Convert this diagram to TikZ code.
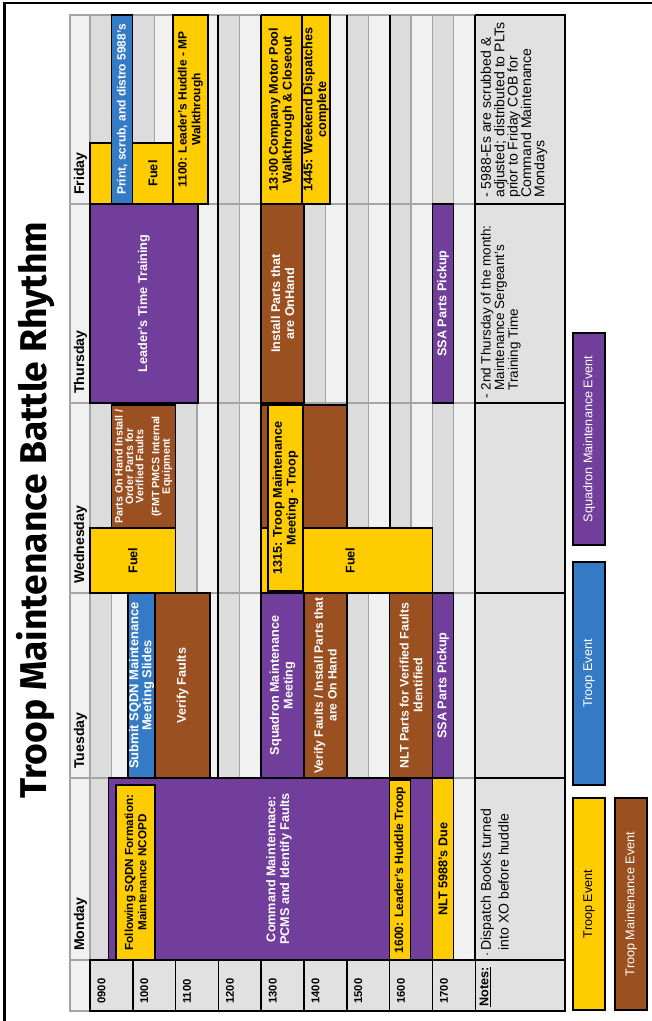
\documentclass[tikz,border=0pt]{standalone}
\usepackage{fontspec}
\setmainfont{Liberation Sans}
\newfontfamily\titlefont{Fira Sans}
\usepackage{tikz}
\definecolor{trpyellow}{RGB}{255,204,0}
\definecolor{sqdnpurple}{RGB}{114,62,155}
\definecolor{trpblue}{RGB}{52,122,196}
\definecolor{maintbrown}{RGB}{155,80,34}
\definecolor{celldark}{RGB}{220,220,220}
\definecolor{celllight}{RGB}{241,241,241}
\definecolor{gridgray}{RGB}{165,165,165}
\definecolor{notegray}{RGB}{225,225,225}

\begin{document}
\begin{tikzpicture}[x=0.025cm, y=-0.025cm, rotate=90, transform shape,
    halfdark/.style={fill=celldark, draw=gridgray, line width=0.8pt},
    halflight/.style={fill=celllight, draw=gridgray, line width=0.8pt},
    blackrule/.style={line width=1.3pt},
    timecell/.style={fill=notegray, draw=black, line width=1pt},
    evbox/.style={draw=black, line width=0.9pt},
    evyellow/.style={evbox, fill=trpyellow},
    evpurple/.style={evbox, fill=sqdnpurple},
    evblue/.style={evbox, fill=trpblue},
    evbrown/.style={evbox, fill=maintbrown},
    evtext/.style={align=center, inner sep=0pt, font=\bfseries\fontsize{9}{9.8}\selectfont},
    txtdark/.style={evtext, text=black},
    txtlight/.style={evtext, text=white},
    daylbl/.style={anchor=west, inner sep=0pt, font=\bfseries\fontsize{10}{12}\selectfont},
    notetext/.style={anchor=north west, align=left, inner sep=0pt},
    legtext/.style={inner sep=0pt, font=\fontsize{9}{10}\selectfont}]
  \useasboundingbox (0,0) rectangle (1021,652);
  \draw[line width=1.5pt] (-5,4.5) -- (1018,4.5) -- (1018,660);
  \node[font=\titlefont\bfseries\fontsize{26.5}{30}\selectfont] (title) at (511,36) {Troop Maintenance Battle Rhythm};

  \foreach \xa/\xb in {61/243,243/428,428/618,618/817,817/1006}{
    \foreach \h in {0,...,8}{
      \draw[halfdark] (\xa,{90+42.8*\h}) rectangle (\xb,{111.4+42.8*\h});
      \draw[halflight] (\xa,{111.4+42.8*\h}) rectangle (\xb,{132.8+42.8*\h});
    }
  }
  \foreach \yy in {90,218.4,261.2,346.8,389.6,475.2}
    \draw[blackrule] (61,\yy) -- (1006,\yy);

  \draw[fill=celllight, draw=gridgray, line width=0.8pt] (10,70) rectangle (61,90);
  \foreach \xa/\xb/\day/\nm in {61/243/Monday/mon,243/428/Tuesday/tue,428/618/Wednesday/wed,618/817/Thursday/thu,817/1006/Friday/fri}{
    \draw[fill=celllight, draw=gridgray, line width=0.8pt] (\xa,70) rectangle (\xb,90);
    \node[daylbl] (hd\nm) at (\xa+9,80.5) {\day};
  }
  \foreach \t [count=\i from 0] in {0900,1000,1100,1200,1300,1400,1500,1600,1700}{
    \draw[timecell] (10,{90+42.8*\i}) rectangle (61,{132.8+42.8*\i});
    \node[anchor=west, inner sep=0pt, font=\bfseries\fontsize{8}{9}\selectfont] (t\t) at (17,{101.5+42.8*\i}) {\t};
  }

  % Monday
  \draw[evpurple] (61,108.3) rectangle (243,432.4);
  \node[txtlight] (cmdmaint) at (152,279) {Command Maintennace:\\PCMS and Identify Faults};
  \draw[evyellow] (61,116) rectangle (236,155);
  \node[txtdark, font=\bfseries\fontsize{8.3}{9.4}\selectfont] (ncopd) at (148.5,135.5) {Following SQDN Formation:\\Maintenance NCOPD};
  \draw[evyellow] (61,389.6) rectangle (241,410.5);
  \node[txtdark, font=\bfseries\fontsize{8.6}{9.4}\selectfont] (huddlemon) at (151,400) {1600: Leader's Huddle Troop};
  \draw[evyellow] (61,432.4) rectangle (243,453.8);
  \node[txtdark] (due5988) at (152,443.1) {NLT 5988's Due};

  % Tuesday
  \draw[evblue] (243,128) rectangle (428,155);
  \node[txtlight, font=\bfseries\fontsize{9.2}{9.2}\selectfont] (slides) at (335.5,141.5) {Submit SQDN Maintenance\\Meeting Slides};
  \draw[evbrown] (243,155) rectangle (428,210);
  \node[txtlight] (verify) at (335.5,182.5) {Verify Faults};
  \draw[evpurple] (243,261.2) rectangle (428,304);
  \node[txtlight] (sqdnmtg) at (335.5,282.6) {Squadron Maintenance\\Meeting};
  \draw[evbrown] (243,304) rectangle (428,346.8);
  \node[txtlight, font=\bfseries\fontsize{8.6}{9.8}\selectfont] (install) at (335.5,325.4) {Verify Faults / Install Parts that\\are On Hand};
  \draw[evbrown] (243,389.6) rectangle (428,432.4);
  \node[txtlight, font=\bfseries\fontsize{8.8}{9.8}\selectfont] (nltparts) at (335.5,411) {NLT Parts for Verified Faults\\Identified};
  \draw[evpurple] (243,432.4) rectangle (428,453.8);
  \node[txtlight] (ssatue) at (335.5,443.1) {SSA Parts Pickup};

  % Wednesday
  \draw[evyellow] (428,90) rectangle (493,175.6);
  \node[txtdark] (fuelam) at (460.5,132.8) {Fuel};
  \draw[evbrown] (493,111.4) rectangle (616,175.6);
  \node[txtlight, font=\bfseries\fontsize{7.6}{7.4}\selectfont] (onhand) at (554.5,143.5) {Parts On Hand Install /\\Order Parts for\\Verified Faults\\[4pt](FMT PMCS Internal\\Equipment};
  \draw[evbrown] (493,261.2) rectangle (616,346.8);
  \draw[evyellow] (428,261.2) rectangle (493,432.4);
  \node[txtdark] (fuelpm) at (460.5,350) {Fuel};
  \draw[evyellow] (430,268) rectangle (616,303);
  \node[txtdark] (troopmtg) at (523,285.5) {1315: Troop Maintenance\\Meeting - Troop};

  % Thursday
  \draw[evpurple] (618,90) rectangle (817,198);
  \node[txtlight] (ltt) at (717.5,144) {Leader's Time Training};
  \draw[evbrown] (618,261.2) rectangle (817,304);
  \node[txtlight] (installthu) at (717.5,282.6) {Install Parts that\\are OnHand};
  \draw[evpurple] (618,432.4) rectangle (817,453.8);
  \node[txtlight] (ssathu) at (717.5,443.1) {SSA Parts Pickup};

  % Friday
  \draw[evyellow] (817,90) rectangle (878,111.4);
  \draw[evblue] (817,111.4) rectangle (1006,132.8);
  \node[txtlight, font=\bfseries\fontsize{8.5}{9.4}\selectfont] (distro) at (911.5,122.1) {Print, scrub, and distro 5988's};
  \draw[evyellow] (817,132.8) rectangle (878,173);
  \node[txtdark] (fuelfri) at (847.5,152.9) {Fuel};
  \draw[evyellow] (817,173) rectangle (1006,208);
  \node[txtdark, font=\bfseries\fontsize{8.5}{9.8}\selectfont] (mpwalk) at (911.5,190.5) {1100: Leader's Huddle - MP\\Walkthrough};
  \draw[evyellow] (817,261.2) rectangle (1006,302);
  \node[txtdark] (closeout) at (911.5,281.6) {13:00 Company Motor Pool\\Walkthrough \& Closeout};
  \draw[evyellow] (817,302) rectangle (1006,330);
  \node[txtdark] (dispatch) at (911.5,316) {1445: Weekend Dispatches\\complete};

  % notes row
  \foreach \xa/\xb in {10/61,61/243,243/428,428/618,618/817,817/1006}
    \draw[timecell] (\xa,475.2) rectangle (\xb,565);
  \node[notetext, font=\bfseries\fontsize{9}{10}\selectfont] (notes) at (14,479.5) {\underline{Notes:}};
  \node[notetext, font=\fontsize{10}{12.5}\selectfont] (notemon) at (64,480.5) {$\cdot$\,Dispatch Books turned\\\hphantom{$\cdot$\,}into XO before huddle};
  \node[notetext, font=\fontsize{9.6}{9.7}\selectfont] (notethu) at (622,480.5) {- 2nd Thursday of the month:\\\hphantom{- }Maintenance Sergeant's\\\hphantom{- }Training Time};
  \node[notetext, font=\fontsize{10}{9.5}\selectfont] (notefri) at (823,480.5) {- 5988-Es are scrubbed \&\\adjusted; distributed to PLTs\\prior to Friday COB for\\Command Maintenance\\Mondays};

  % legend
  \draw[evyellow] (11,573) rectangle (223,605);
  \node[legtext] (legtroop) at (117,589) {Troop Event};
  \draw[evblue] (236,573) rectangle (459,605);
  \node[legtext, text=white] (legblue) at (347.5,589) {Troop Event};
  \draw[evpurple] (476,573) rectangle (688,605);
  \node[legtext, text=white] (legsqdn) at (582,589) {Squadron Maintenance Event};
  \draw[evbrown] (11,615) rectangle (223,647);
  \node[legtext, text=white] (legmaint) at (117,631) {Troop Maintenance Event};
\end{tikzpicture}
\end{document}
